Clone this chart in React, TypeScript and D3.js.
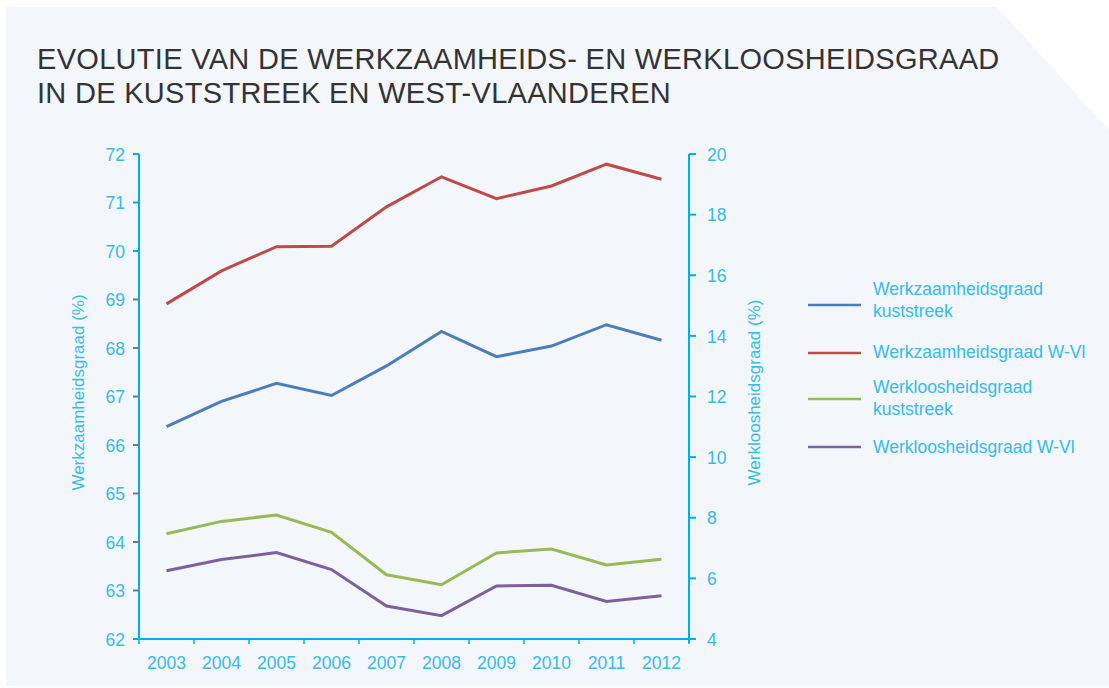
import React from "react";
import * as d3 from "d3";

const years = ["2003", "2004", "2005", "2006", "2007", "2008", "2009", "2010", "2011", "2012"];
const werkzaamKust = [66.38, 66.9, 67.27, 67.02, 67.63, 68.34, 67.82, 68.04, 68.48, 68.16];
const werkzaamWVl = [68.91, 69.59, 70.09, 70.1, 70.91, 71.53, 71.08, 71.34, 71.79, 71.48];
const werklozeKust = [7.47, 7.88, 8.09, 7.52, 6.12, 5.79, 6.84, 6.97, 6.44, 6.63];
const werklozeWVl = [6.25, 6.62, 6.85, 6.29, 5.09, 4.77, 5.75, 5.77, 5.24, 5.43];
const leftTicks = [62, 63, 64, 65, 66, 67, 68, 69, 70, 71, 72];
const rightTicks = [4, 6, 8, 10, 12, 14, 16, 18, 20];
const titleLines = ["EVOLUTIE VAN DE WERKZAAMHEIDS- EN WERKLOOSHEIDSGRAAD", "IN DE KUSTSTREEK EN WEST-VLAANDEREN"];

const series = [
  { name: ["Werkzaamheidsgraad", "kuststreek"], values: werkzaamKust, axis: "left", color: "#4a7ebb" },
  { name: ["Werkzaamheidsgraad W-Vl"], values: werkzaamWVl, axis: "left", color: "#be4b48" },
  { name: ["Werkloosheidsgraad", "kuststreek"], values: werklozeKust, axis: "right", color: "#98b954" },
  { name: ["Werkloosheidsgraad W-Vl"], values: werklozeWVl, axis: "right", color: "#7d60a0" },
];

const W = 1109;
const H = 688;
const axisColor = "#00aeef";
const labelColor = "#35bbef";
const font = "'Liberation Sans', Arial, Helvetica, sans-serif";

export default function App() {
  const x0 = 139, x1 = 689, yTop = 154, yBot = 639;
  const x = d3.scaleBand<string>().domain(years).range([x0, x1]);
  const yL = d3.scaleLinear().domain([62, 72]).range([yBot, yTop]);
  const yR = d3.scaleLinear().domain([4, 20]).range([yBot, yTop]);

  const lineFor = (s: typeof series[number]) => {
    const ys = s.axis === "left" ? yL : yR;
    return d3
      .line<number>()
      .x((_, i) => (x(years[i]) as number) + x.bandwidth() / 2)
      .y((v) => ys(v))(s.values) as string;
  };

  const legendY = [305, 353, 399, 447];
  const legendTextY = [[295, 317], [358], [393, 415], [453]];

  return (
    <svg width={W} height={H} style={{ position: "absolute", left: 0, top: 0 }} fontFamily={font}>
      <rect x={0} y={0} width={W} height={H} fill="#ffffff" />
      <path d={`M6,7 L997,7 L1109,130 L1109,686 L6,686 Z`} fill="#f3f6fb" />
      {titleLines.map((t, i) => (
        <text key={i} x={37} y={69 + i * 34} fontSize={29} fill="#333333" letterSpacing={0.3}>
          {t}
        </text>
      ))}

      {/* left axis */}
      <line x1={x0} x2={x0} y1={yTop} y2={yBot} stroke={axisColor} strokeWidth={2} />
      {leftTicks.map((t) => (
        <g key={t}>
          <line x1={x0 - 6} x2={x0} y1={yL(t)} y2={yL(t)} stroke={t >= 70 ? axisColor : "#6b7b84"} strokeWidth={2} />
          <text x={125} y={yL(t)} dy="0.38em" textAnchor="end" fontSize={17.5} fill={labelColor}>
            {t}
          </text>
        </g>
      ))}
      {/* right axis */}
      <line x1={x1} x2={x1} y1={yTop} y2={yBot + 4} stroke={axisColor} strokeWidth={2} />
      {rightTicks.map((t) => (
        <g key={t}>
          <line x1={x1} x2={x1 + 7} y1={yR(t)} y2={yR(t)} stroke={axisColor} strokeWidth={2} />
          <text x={707} y={yR(t)} dy="0.38em" textAnchor="start" fontSize={17.5} fill={labelColor}>
            {t}
          </text>
        </g>
      ))}
      {/* x axis */}
      <line x1={x0 - 6} x2={x1 + 7} y1={yBot} y2={yBot} stroke={axisColor} strokeWidth={2} />
      {years.map((yr) => (
        <g key={yr}>
          <line x1={x(yr) as number} x2={x(yr) as number} y1={yBot} y2={yBot + 5} stroke={axisColor} strokeWidth={1.5} />
          <text x={(x(yr) as number) + x.bandwidth() / 2} y={669} textAnchor="middle" fontSize={17.5} fill={labelColor}>
            {yr}
          </text>
        </g>
      ))}
      <line x1={x1} x2={x1} y1={yBot} y2={yBot + 5} stroke={axisColor} strokeWidth={1.5} />

      {/* axis titles */}
      <text transform={`translate(84,${(yTop + yBot) / 2 - 4}) rotate(-90)`} textAnchor="middle" fontSize={17} fill={labelColor}>
        Werkzaamheidsgraad (%)
      </text>
      <text transform={`translate(760,${(yTop + yBot) / 2 - 4}) rotate(-90)`} textAnchor="middle" fontSize={17} fill={labelColor}>
        Werkloosheidsgraad (%)
      </text>

      {/* lines */}
      {series.map((s, i) => (
        <path key={i} d={lineFor(s)} fill="none" stroke={s.color} strokeWidth={3} strokeLinejoin="miter" />
      ))}

      {/* legend */}
      {series.map((s, i) => (
        <g key={i}>
          <line x1={808} x2={861} y1={legendY[i]} y2={legendY[i]} stroke={s.color} strokeWidth={2.5} />
          {s.name.map((n, j) => (
            <text key={j} x={873} y={legendTextY[i][j]} fontSize={17.5} fill={labelColor}>
              {n}
            </text>
          ))}
        </g>
      ))}
    </svg>
  );
}
